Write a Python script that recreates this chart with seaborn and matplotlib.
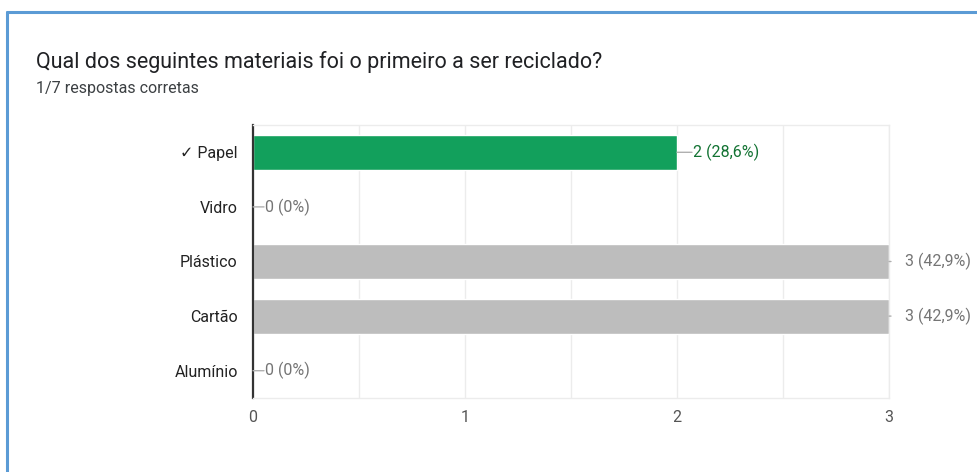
import matplotlib
matplotlib.use("Agg")
import matplotlib.pyplot as plt
import seaborn as sns
import pandas as pd
from matplotlib.lines import Line2D

# Respostas ao quiz
categorias = ["✓ Papel", "Vidro", "Plástico", "Cartão", "Alumínio"]
respostas = [2, 0, 3, 3, 0]
percentagens = ["28,6%", "0%", "42,9%", "42,9%", "0%"]
correta = [True, False, False, False, False]
titulo = "Qual dos seguintes materiais foi o primeiro a ser reciclado?"
subtitulo = "1/7 respostas corretas"

VERDE = "#12a05c"
VERDE_TXT = "#137333"
CINZA = "#bdbdbd"
CINZA_TXT = "#757575"
PX = 72 / 100  # pontos por pixel

sns.set_theme(style="white")
plt.rcParams["font.family"] = ["Roboto", "DejaVu Sans"]

df = pd.DataFrame({"categoria": categorias, "respostas": respostas,
                   "tipo": ["certa" if c else "outra" for c in correta]})

fig = plt.figure(figsize=(9.77, 4.72), dpi=100)
ax = fig.add_axes([253 / 977, (472 - 398) / 472, (889 - 253) / 977, (398 - 125) / 472])

sns.barplot(data=df, y="categoria", x="respostas", hue="tipo",
            palette={"certa": VERDE, "outra": CINZA}, dodge=False,
            width=0.64, legend=False, ax=ax, orient="h", saturation=1)

ax.set_xlim(0, 3)
ax.set_ylim(4.5, -0.5)
ax.set_xticks([0, 1, 2, 3])
ax.set_xticks([0.5, 1.5, 2.5], minor=True)
ax.grid(axis="x", which="both", color="#ececec", linewidth=1)
ax.set_axisbelow(True)
ax.set_xlabel("")
ax.set_ylabel("")
ax.tick_params(axis="x", length=0, pad=9, labelsize=11.5, labelcolor="#555555")
ax.tick_params(axis="y", length=0, pad=11, labelsize=11.5, labelcolor="#222222")

for lado in ["top", "bottom", "right"]:
    ax.spines[lado].set_color("#ececec")
    ax.spines[lado].set_linewidth(1)
ax.spines["left"].set_color("#333333")
ax.spines["left"].set_linewidth(1.6)

vmax = max(respostas)
for i, (v, p, c) in enumerate(zip(respostas, percentagens, correta)):
    cor = VERDE_TXT if c else CINZA_TXT
    if v == vmax:
        comp, desl = 2 * PX, 16 * PX
    elif v == 0:
        comp, desl = 11 * PX, 12 * PX
    else:
        comp, desl = 15 * PX, 16 * PX
    ax.annotate("", xy=(v, i), xycoords="data",
                xytext=(comp, 0), textcoords="offset points",
                arrowprops=dict(arrowstyle="-", color="#b0b0b0", lw=1,
                                shrinkA=0, shrinkB=0),
                annotation_clip=False)
    ax.annotate(f"{v} ({p})", xy=(v, i), xytext=(desl, 0),
                textcoords="offset points", va="center", ha="left",
                fontsize=11.5, color=cor, annotation_clip=False)

fig.text(36 / 977, 1 - 62 / 472, titulo, fontsize=15.5, color="#202124",
         va="center", ha="left")
fig.text(36 / 977, 1 - 88 / 472, subtitulo, fontsize=11.5, color="#3c4043",
         va="center", ha="left")

# Moldura azul (topo e esquerda)
fig.add_artist(Line2D([7 / 977, 7 / 977], [0, 1 - 12 / 472],
                      transform=fig.transFigure, color="#5b9bd5", lw=2.2))
fig.add_artist(Line2D([7 / 977, 1], [1 - 12 / 472, 1 - 12 / 472],
                      transform=fig.transFigure, color="#5b9bd5", lw=2.2))

fig.savefig("out.png", dpi=100)
